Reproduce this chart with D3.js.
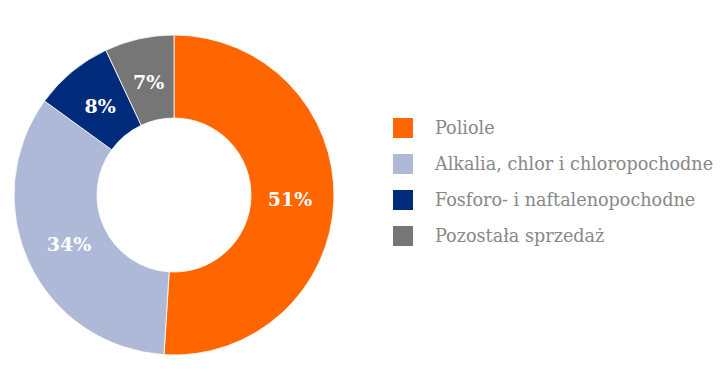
<!DOCTYPE html>
<html><head><meta charset="utf-8">
<script src="https://cdn.jsdelivr.net/npm/d3@7/dist/d3.min.js"></script>
<style>html,body{margin:0;padding:0;background:#fff;}svg{display:block;}</style>
</head><body>
<svg id="chart" width="728" height="387"></svg>
<script>
const categories = ["Poliole", "Alkalia, chlor i chloropochodne", "Fosforo- i naftalenopochodne", "Pozostała sprzedaż"];
const values = [51, 34, 8, 7];
const labels = ["51%", "34%", "8%", "7%"];
const colors = ["#FF6600", "#ADB9D6", "#002A7A", "#767676"];

const svg = d3.select("#chart");
const cx = 174, cy = 195, rOuter = 160, rInner = 77;
const g = svg.append("g").attr("transform", `translate(${cx},${cy})`);
const pie = d3.pie().sort(null).value(d => d)(values);
const arc = d3.arc().innerRadius(rInner).outerRadius(rOuter);
const labelArc = d3.arc().innerRadius(116).outerRadius(116);

g.selectAll("path").data(pie).join("path")
  .attr("d", arc)
  .attr("fill", (d, i) => colors[i])
  .attr("stroke", "#fff").attr("stroke-width", 0.8);

g.selectAll("text").data(pie).join("text")
  .attr("transform", d => `translate(${labelArc.centroid(d)})`)
  .attr("text-anchor", "middle").attr("dominant-baseline", "central")
  .attr("font-family", "'DejaVu Serif', serif")
  .attr("font-weight", "bold").attr("font-size", 19)
  .attr("fill", "#fff")
  .text((d, i) => labels[i]);

const legend = svg.append("g").attr("transform", "translate(393,118)");
const rows = legend.selectAll("g").data(categories).join("g")
  .attr("transform", (d, i) => `translate(0,${i * 36})`);
rows.append("rect").attr("width", 20).attr("height", 20).attr("fill", (d, i) => colors[i]);
rows.append("text").attr("x", 42).attr("y", 16)
  .attr("font-family", "'DejaVu Serif', serif")
  .attr("font-size", 17.6).attr("fill", "#888888")
  .text(d => d);
</script>
</body></html>
